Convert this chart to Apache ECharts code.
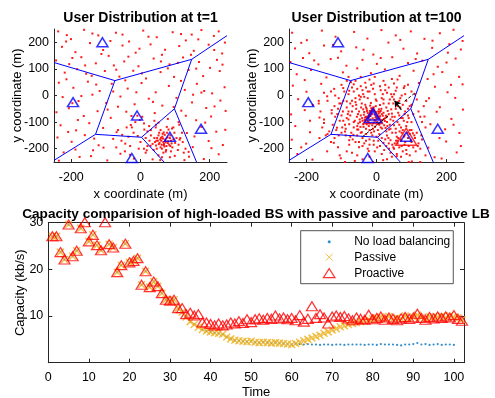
<!DOCTYPE html>
<html>
<head>
<meta charset="utf-8">
<script src="https://cdn.jsdelivr.net/npm/echarts@6/dist/echarts.min.js"></script>
<style>
  html, body { margin: 0; padding: 0; background: #ffffff; }
  #chart { width: 495px; height: 398px; }
</style>
</head>
<body>
<div id="chart"></div>
<script>
// ---- user positions (flat x,y lists, metres) ----
const usersT1 = [
  -238,241,-201,212,-163,247,-122,226,-71,236,-33,203,8,244,47,219,93,238,131,207,176,246,212,224,244,199,
  -227,183,-188,163,-146,197,-108,171,-52,188,-14,161,29,192,71,172,112,186,154,168,197,191,236,158,
  -244,132,-206,118,-171,144,-129,121,-92,149,-47,128,-6,110,38,139,84,117,123,143,169,126,221,134,
  -219,86,-183,99,-141,74,-103,92,-61,71,-21,93,16,64,58,88,97,70,139,96,181,73,229,92,
  -236,48,-194,29,-152,52,-118,17,-83,44,-37,26,3,47,44,12,82,36,128,21,163,44,207,8,243,31,
  -225,-6,-179,-21,-139,3,-99,-28,-58,-4,-17,-33,24,-12,63,-38,104,-9,149,-26,190,-47,231,-19,
  -243,-63,-207,-48,-164,-77,-124,-59,-86,-84,-41,-61,-2,-92,41,-66,79,-88,118,-57,161,-93,204,-79,246,-58,
  -231,-112,-186,-131,-148,-104,-108,-122,-69,-138,-28,-111,11,-128,52,-102,91,-124,134,-141,176,-118,219,-136,
  -240,-158,-199,-174,-161,-149,-121,-187,-79,-163,-44,-181,-8,-152,29,-189,73,-211,113,-166,151,-194,197,-171,238,-186,
  -222,-214,-176,-231,-137,-206,-96,-244,-58,-219,-19,-237,18,-206,57,-243,99,-227,139,-212,183,-239,226,-221,
  -213,227,-87,205,-3,176,62,153,148,229,201,104,-157,82,-77,113,108,123,-197,-29,-12,12,176,11,-65,-42,96,-43,-143,-228,
  -215,203,-139,233,-52,229,23,221,117,231,167,211,226,241,
  -197,141,-113,156,-35,146,59,128,146,153,213,171,
  -160,113,-70,97,4,83,79,102,161,101,237,116,
  -214,61,-128,41,-44,57,117,55,184,17,-171,-2,-79,15,36,-24,152,3,214,-41,
  -181,-92,-95,-53,-26,-77,131,-76,187,-102,-209,-137,-134,-162,-53,-148,67,-139,112,-110,156,-154,245,-129,
  -188,-203,-107,-196,-30,-223,46,-170,127,-243,205,-198,-236,-245,86,-190,
  60,-170,72,-165,55,-178,68,-182,80,-172,48,-160,63,-155,75,-190,85,-160,58,-195,42,-175,90,-180,70,-148,52,-150,
  66,-175,78,-158,61,-185,88,-170,45,-188,73,-176,57,-165,83,-185,65,-162,50,-170,95,-165,62,-200,77,-140,40,-160,
  100,-178,69,-192,54,-140,86,-150,35,-182,92,-195,74,-205,47,-200,104,-160,58,-130,81,-128,30,-150,110,-185,66,-215,
  38,-205,98,-140,26,-170,115,-160,52,-225,88,-210,20,-190,76,-118,44,-120,108,-205,30,-130,122,-175,62,-232,95,-120,
  15,-160,85,-232,120,-140,10,-200,71,-170,59,-159,67,-186,79,-179,53,-183,64,-144,
  -40,-120,-20,-140,10,-105,-55,-170,25,-115,-30,-190,0,-175,40,-95,-65,-130,15,-215,-15,-100,-45,-210,35,-240,
  -5,-200,20,-135,-35,-155,5,-80,-9,-76,-70,-195,45,-110,130,-200,140,-230,-25,-120,110,-100,125,-215
];

const usersT100 = [
  -241,236,-199,208,-156,244,-117,221,-64,239,-26,214,14,246,55,226,98,241,137,213,181,234,220,247,246,205,
  -233,177,-192,159,-150,188,-101,166,-58,181,-9,154,34,199,77,176,116,158,159,179,204,161,241,173,
  -246,126,-210,141,-166,117,-131,137,-86,112,-40,134,1,119,45,144,90,122,131,131,175,108,226,139,
  -228,80,-187,96,-143,68,-96,87,-55,102,-16,84,24,98,66,74,106,93,146,62,188,88,236,70,
  -239,37,-200,14,-158,44,-121,25,-73,50,78,28,121,47,167,33,203,12,246,42,
  -224,-14,-182,-36,-141,-3,-106,-30,142,-21,181,-44,225,-9,
  -244,-71,-205,-55,-163,-83,-128,-67,137,-79,172,-61,214,-88,247,-53,
  -232,-115,-190,-138,-150,-103,-113,-121,154,-108,196,-127,237,-141,
  -242,-166,-201,-181,-163,-160,-122,-178,-78,-185,148,-196,199,-173,241,-190,
  -226,-220,-183,-241,-141,-210,-102,-236,-62,-246,-22,-209,19,-243,58,-228,101,-248,140,-225,186,-237,229,-214,
  -215,198,-124,190,-37,172,68,209,160,206,208,193,-178,132,-110,142,12,141,112,137,200,124,-205,58,-80,70,44,62,
  163,80,213,40,-165,-20,-190,-95,-140,-145,-215,-195,180,-160,220,-110,166,-232,125,-250,-90,-250,-10,-250,
  -12,-70,-3,-82,-25,-66,5,-60,-18,-90,10,-78,-30,-80,-8,-55,16,-92,-20,-105,2,-100,-35,-62,20,-65,-15,-48,8,-110,
  -40,-95,25,-85,-5,-72,-28,-50,14,-50,-45,-75,30,-100,-22,-115,-2,-40,35,-70,-38,-108,12,-120,-50,-60,28,-45,
  -10,-125,-32,-35,40,-90,-48,-90,22,-112,-18,-38,0,-88,-26,-96,18,-76,-8,-102,6,-68,-14,-60,-36,-72,32,-58,
  -4,-118,26,-122,-44,-45,10,-36,-52,-105,38,-110,-20,-130,44,-68,-30,-125,-56,-80,4,-130,-42,-30,48,-95,-16,-28,
  20,-30,-58,-50,36,-128,-6,-92,-24,-84,14,-100,-34,-92,8,-86,-12,-112,24,-96,-28,-108,-2,-62,-38,-52,30,-80,
  -18,-68,12,-58,-46,-118,42,-52,-22,-78,2,-108,-8,-45,16,-124,-30,-44,
  -70,-60,-80,-90,-65,-120,-75,-30,-60,-10,-90,-110,-85,-45,-100,-75,-95,-20,-72,-140,-55,-150,-40,-160,-20,-165,
  0,-155,15,-160,30,-150,45,-140,55,-125,60,-100,65,-75,55,-50,60,-25,45,-5,30,10,15,-10,-5,5,-20,15,-35,-5,
  -50,0,-65,15,70,-120,78,-95,82,-60,75,-35,68,-10,50,5,25,20,-10,25,-40,20,-80,5,-110,-50,-105,-95,-115,-130,
  -88,-150,-60,-175,-35,-180,-8,-185,20,-178,40,-168,58,-155,72,-140,85,-115,92,-85,90,-50,85,-20,72,0,55,18,
  35,30,10,35,-15,40,-45,35,-70,30,-92,15,-108,-10,-120,-40,-118,-80,-125,-110,-100,-140,-78,-168,-50,-195,
  -25,-200,2,-195,28,-190,52,-180,70,-165,80,-150,95,-130,100,-100,105,-70,100,-35,-62,-95,-82,-70,-52,-128,
  -68,-40,-48,-15,-88,-125,-58,-35,-78,-108,-66,-148,-96,-60,-30,-145,-12,-150,8,-145,28,-135,50,-112,52,-80,
  48,-30,38,-15,62,-65,-38,5,-25,-10,-2,-15,18,5,-55,-128,-85,-22,75,-85,68,-45,-42,-138,34,-160,-8,-170,
  -75,-75,-65,-100,-70,-20,-55,-115,-85,-85,-45,-140,-30,-170,-15,-140,5,-170,25,-165,40,-125,55,-140,65,-110,
  70,-85,60,-40,50,-15,35,-30,20,-15,0,-20,-25,15,-45,-5,-60,-25,-80,-60,-95,-95,-90,-135,-75,-155,-50,-175,
  -20,-185,10,-190,35,-180,60,-170,75,-130,88,-100,80,-70,65,-20,42,5,12,20,-30,30,-55,25,-78,18,
  -102,-30,-112,-70,-98,-120,-68,-165,-40,-190,-5,-210,22,-205,48,-195,90,-75,95,-40,82,5,58,30,25,40,-8,45,
  -32,48,-65,42,-95,28,-118,0,-128,-55,-108,-150,
  -33,-83,-17,-77,-3,-95,9,-62,21,-88,-27,-58,-41,-85,3,-78,-11,-86,15,-70,-23,-98,27,-76,-37,-118,-7,-135,
  31,-115,-53,-70,45,-80,-47,-100,7,-52,-19,-58,
  70,-170,90,-160,80,-185,100,-175,95,-145,65,-195,110,-160,75,-210,105,-195,60,-180,115,-140,85,-205,120,-180,
  50,-200,95,-225,40,-215,130,-165,70,-230,100,-130,82,-175,62,-160,112,-210,45,-185,125,-200,88,-140,58,-220,
  78,-155,108,-150,36,-200,92,-190,72,-190,98,-168,86,-220,56,-170,118,-190,104,-142,66,-135,128,-150,44,-230,92,-250,
  -140,-20,-150,-90,-145,-150,-130,-175,-110,-195,-85,-210,-55,-225,-20,-230,15,-220,120,-60,130,-100,115,-15,
  100,15,80,35,50,45,20,55,-20,60,-60,55,-100,40,-130,15,-160,-60,-155,-120,-120,-160,-70,-215,-40,-240,
  135,-40,140,-120,125,-80,60,60,-5,70,-85,55,-135,-135,-165,-30,150,-10,-45,70,90,40,110,5,-150,10,30,-240,-105,-225
];

// ---- base stations and the cell borders between them ----
const stations = [[-110, 200], [-195, -25], [-10, -75], [175, -125], [85, -155], [-25, -235]];
const loadedStations = [[-10, -75], [85, -155]];
const cellEdges = [
  [[-250, 124], [-74, 56]], [[-74, 56], [148, 136]], [[148, 136], [250, 225]],
  [[-74, 56], [-130, -146]], [[148, 136], [98, -50]], [[98, -50], [3, -157]],
  [[-130, -146], [3, -157]], [[-130, -146], [-250, -244]], [[3, -157], [68, -250]],
  [[98, -50], [162, -250]]
];
const moveTracks = [[[-40, -155], [38, -72]], [[109, 9], [80, -22]]];
const moveArrow = [[[71, -54], [52, -20]]];

const mapTicksX = [-200, 0, 200];
const mapTicksY = [-200, -100, 0, 100, 200];

// ---- capacity over time (kb/s) ----
const time = [1,2,3,4,5,6,7,8,9,10,11,12,13,14,15,16,17,18,19,20,21,22,23,24,25,26,27,28,29,30,
  31,32,33,34,35,36,37,38,39,40,41,42,43,44,45,46,47,48,49,50,51,52,53,54,55,56,57,58,59,60,
  61,62,63,64,65,66,67,68,69,70,71,72,73,74,75,76,77,78,79,80,81,82,83,84,85,86,87,88,89,90,
  91,92,93,94,95,96,97,98,99,100,101,102];

const proactive = [27.1,27.1,23.7,22.1,29.6,22.8,24.0,28.8,30.1,26.0,
  27.4,25.2,24.1,30.1,25.4,24.7,19.4,20.9,25.5,21.5,
  21.8,22.4,16.7,19.6,16.2,17.4,16.4,14.9,13.5,13.3,
  13.5,11.7,11.7,10.4,10.7,10.1,10.4,8.6,8.6,8.3,
  8.0,8.4,8.0,8.2,8.6,8.4,8.9,8.5,9.3,8.7,
  9.3,9.5,9.2,9.6,9.4,10.1,9.5,9.7,9.3,9.6,
  9.1,10.2,8.8,9.4,12.1,9.6,10.4,9.7,8.4,9.9,
  10.1,9.8,10.0,9.5,9.1,9.7,9.4,9.2,10.3,9.3,
  9.6,9.9,9.2,9.7,9.4,9.1,9.5,9.8,9.4,9.7,
  10.5,9.6,9.2,9.8,9.5,9.9,9.6,9.9,9.7,10.2,
  9.4,9.0];

const passive = [27.1,27.1,23.7,22.1,29.6,22.8,24.0,28.8,30.1,26.0,
  27.4,25.2,24.1,30.1,25.4,24.7,19.4,20.9,25.5,21.5,
  21.8,22.4,16.7,19.6,16.2,17.4,16.4,14.9,13.5,13.3,
  13.5,11.7,10.8,9.8,8.8,8.2,7.6,7.1,6.8,6.6,
  6.4,6.3,6.1,5.5,5.1,4.8,4.7,4.6,4.5,4.6,
  4.4,4.3,4.4,4.3,4.2,4.3,4.2,4.1,4.0,3.9,
  4.1,4.4,4.7,5.0,5.3,5.6,5.9,6.3,6.6,7.0,
  7.3,7.7,7.9,8.2,8.4,8.6,8.8,9.0,9.2,9.4,
  9.6,9.8,9.5,9.9,9.3,9.6,9.4,10.0,9.5,9.8,
  10.2,9.7,9.4,9.9,9.7,9.8,10.0,9.7,10.1,9.8,
  9.6,9.2];

const noBalancing = [27.1,27.1,23.7,22.1,29.6,22.8,24.0,28.8,30.1,26.0,
  27.4,25.2,24.1,30.1,25.4,24.7,19.4,20.9,25.5,21.5,
  21.8,22.4,16.7,19.6,16.2,17.4,16.4,14.9,13.5,13.3,
  13.5,11.7,10.8,9.8,8.8,8.2,7.6,7.1,6.8,6.6,
  6.4,6.3,6.1,5.5,5.1,4.8,4.7,4.6,4.5,4.6,
  4.4,4.3,4.4,4.3,4.2,4.3,4.2,4.1,4.0,3.9,
  4.1,4.0,3.9,4.0,3.9,3.9,3.8,3.9,3.9,3.8,
  3.9,3.9,3.8,3.9,3.9,3.9,3.9,3.8,3.9,3.9,
  3.8,4.0,3.9,3.9,3.9,3.8,3.7,3.9,3.9,4.0,
  4.2,3.9,4.0,3.8,3.9,4.0,3.8,3.9,3.9,3.8];

const timeTicks = [0, 10, 20, 30, 40, 50, 60, 70, 80, 90, 100];
const capacityTicks = [10, 20, 30];

// ---- drawing ----
const FONT = '"Liberation Sans", Arial, Helvetica, sans-serif';
const AXIS = '#262626';
const BLUE = '#0000FF';
const RED = '#FF0000';
const CROSS = 'path://M0,0L10,10M10,0L0,10';

function toPairs(flat) {
  const out = [];
  for (let i = 0; i < flat.length; i += 2) out.push([flat[i], flat[i + 1]]);
  return out;
}
const series1 = (ys) => ys.map((v, i) => [time[i], v]);

const nameStyle = { fontSize: 13, color: '#000', fontFamily: FONT };
const labelStyle = { fontSize: 12.5, color: '#000', fontFamily: FONT };

function mapXAxis(gridIndex) {
  return {
    type: 'value', gridIndex, min: -250, max: 250,
    axisLine: { show: true, onZero: false, lineStyle: { color: AXIS, width: 1 } },
    axisTick: { show: true, inside: true, length: 3, customValues: mapTicksX, lineStyle: { color: AXIS } },
    axisLabel: Object.assign({ customValues: mapTicksX, margin: 9 }, labelStyle),
    splitLine: { show: false },
    name: 'x coordinate (m)', nameLocation: 'middle', nameGap: 26, nameMoveOverlap: false,
    nameTextStyle: nameStyle
  };
}
function mapYAxis(gridIndex) {
  return {
    type: 'value', gridIndex, min: -250, max: 250,
    axisLine: { show: true, onZero: false, lineStyle: { color: AXIS, width: 1 } },
    axisTick: { show: true, inside: true, length: 3, customValues: mapTicksY, lineStyle: { color: AXIS } },
    axisLabel: Object.assign({ customValues: mapTicksY, margin: 5 }, labelStyle),
    splitLine: { show: false },
    name: 'y coordinate (m)', nameLocation: 'middle', nameGap: 30, nameMoveOverlap: false,
    nameTextStyle: nameStyle
  };
}
function userSeries(flat, idx) {
  return {
    type: 'scatter', xAxisIndex: idx, yAxisIndex: idx, data: toPairs(flat),
    symbol: 'rect', symbolSize: 2, itemStyle: { color: RED, opacity: 0.9 }, clip: true, z: 2
  };
}
function cellSeries(idx) {
  return {
    type: 'lines', coordinateSystem: 'cartesian2d', xAxisIndex: idx, yAxisIndex: idx,
    data: cellEdges.map(e => ({ coords: e })),
    lineStyle: { color: BLUE, width: 1, opacity: 1 }, z: 3
  };
}
function stationSeries(idx) {
  return {
    type: 'scatter', xAxisIndex: idx, yAxisIndex: idx, data: stations,
    symbol: 'triangle', symbolSize: [11, 9],
    itemStyle: { color: 'none', borderColor: BLUE, borderWidth: 1.5 }, z: 4
  };
}

const chart = echarts.init(document.getElementById('chart'), null, { renderer: 'canvas' });

const titleStyle = { fontSize: 14, fontWeight: 'bold', color: '#000', fontFamily: FONT };

chart.setOption({
  animation: false,
  backgroundColor: '#ffffff',
  title: [
    { text: 'User Distribution at t=1', left: 140.5, top: 11.5, textAlign: 'center', padding: 0, textStyle: titleStyle },
    { text: 'User Distribution at t=100', left: 376.5, top: 11.5, textAlign: 'center', padding: 0, textStyle: titleStyle },
    { text: 'Capacity comparision of high-loaded BS with passive and paroactive LB', left: 256, top: 207,
      textAlign: 'center', padding: 0, textStyle: Object.assign({}, titleStyle, { fontSize: 13.6 }) }
  ],
  grid: [
    { left: 54, top: 29, width: 173, height: 133, outerBoundsMode: 'none' },
    { left: 289, top: 29, width: 175, height: 133, outerBoundsMode: 'none' },
    { left: 48.3, top: 222.7, width: 415.7, height: 140, outerBoundsMode: 'none' }
  ],
  legend: {
    orient: 'vertical', left: 300.7, top: 230.7,
    padding: [4, 3, 3, 6], itemWidth: 40, itemHeight: 10, itemGap: 1,
    borderColor: AXIS, borderWidth: 0.8, backgroundColor: '#ffffff',
    selectedMode: false,
    textStyle: { fontSize: 12, color: '#000', fontFamily: FONT, lineHeight: 14 },
    data: [
      { name: 'No load balancing', icon: 'path://M0,0M40,10M18.5,5A1.5,1.5 0 1 1 21.5,5A1.5,1.5 0 1 1 18.5,5Z', itemStyle: { borderWidth: 0 } },
      { name: 'Passive', icon: 'path://M0,0M40,10M16.5,1.5L23.5,8.5M23.5,1.5L16.5,8.5', itemStyle: { borderWidth: 1 } },
      { name: 'Proactive', icon: 'path://M0,0M40,10M14.2,9.5L25.8,9.5L20,0.5Z', itemStyle: { borderWidth: 1.2 } }
    ]
  },
  xAxis: [
    mapXAxis(0),
    mapXAxis(1),
    {
      type: 'value', gridIndex: 2, min: 0, max: 102.5,
      axisLine: { show: true, onZero: false, lineStyle: { color: AXIS, width: 1 } },
      axisTick: { show: true, inside: true, length: 4, customValues: timeTicks, lineStyle: { color: AXIS } },
      axisLabel: Object.assign({ customValues: timeTicks, margin: 8 }, labelStyle),
      splitLine: { show: false },
      name: 'Time', nameLocation: 'middle', nameGap: 23, nameMoveOverlap: false,
      nameTextStyle: nameStyle
    },
    {
      type: 'value', gridIndex: 2, min: 0, max: 102.5, position: 'top',
      axisLine: { show: true, onZero: false, lineStyle: { color: AXIS, width: 1 } },
      axisTick: { show: true, inside: true, length: 4, customValues: timeTicks, lineStyle: { color: AXIS } },
      axisLabel: { show: false }, splitLine: { show: false }
    }
  ],
  yAxis: [
    mapYAxis(0),
    mapYAxis(1),
    {
      type: 'value', gridIndex: 2, min: 0, max: 30,
      axisLine: { show: true, onZero: false, lineStyle: { color: AXIS, width: 1 } },
      axisTick: { show: true, inside: true, length: 4, customValues: capacityTicks, lineStyle: { color: AXIS } },
      axisLabel: Object.assign({ customValues: capacityTicks, margin: 5 }, labelStyle),
      splitLine: { show: false },
      name: 'Capacity (kb/s)', nameLocation: 'middle', nameGap: 21, nameMoveOverlap: false,
      nameTextStyle: nameStyle
    },
    {
      type: 'value', gridIndex: 2, min: 0, max: 30, position: 'right',
      axisLine: { show: true, onZero: false, lineStyle: { color: AXIS, width: 1 } },
      axisTick: { show: true, inside: true, length: 4, customValues: capacityTicks, lineStyle: { color: AXIS } },
      axisLabel: { show: false }, splitLine: { show: false }
    }
  ],
  series: [
    userSeries(usersT1, 0),
    cellSeries(0),
    stationSeries(0),
    userSeries(usersT100, 1),
    cellSeries(1),
    {
      type: 'scatter', xAxisIndex: 1, yAxisIndex: 1, data: loadedStations,
      symbol: 'triangle', symbolSize: (v, p) => (p.dataIndex === 0 ? [19, 16] : [21, 17]),
      itemStyle: { color: 'none', borderColor: RED, borderWidth: 1.5 }, z: 4
    },
    {
      type: 'scatter', xAxisIndex: 1, yAxisIndex: 1, data: loadedStations.slice(0, 1),
      symbol: 'triangle', symbolSize: [17, 14],
      itemStyle: { color: 'none', borderColor: BLUE, borderWidth: 1.5 }, z: 4
    },
    stationSeries(1),
    {
      type: 'lines', coordinateSystem: 'cartesian2d', xAxisIndex: 1, yAxisIndex: 1,
      data: moveTracks.map(e => ({ coords: e })),
      symbol: ['none', 'none'],
      lineStyle: { color: '#000', width: 1, type: [3, 2], opacity: 1 }, z: 5
    },
    {
      type: 'lines', coordinateSystem: 'cartesian2d', xAxisIndex: 1, yAxisIndex: 1,
      data: moveArrow.map(e => ({ coords: e })),
      symbol: ['none', 'arrow'], symbolSize: 6,
      lineStyle: { color: '#000', width: 1.2, opacity: 1 }, z: 5
    },
    {
      name: 'No load balancing', type: 'scatter', xAxisIndex: 2, yAxisIndex: 2,
      data: series1(noBalancing), symbol: 'circle', symbolSize: 2.2,
      itemStyle: { color: '#0072BD' }, z: 3
    },
    {
      name: 'Passive', type: 'scatter', xAxisIndex: 2, yAxisIndex: 2,
      data: series1(passive), symbol: CROSS, symbolSize: 7,
      itemStyle: { color: 'none', borderColor: '#EDB120', borderWidth: 1.5 }, z: 4
    },
    {
      name: 'Proactive', type: 'scatter', xAxisIndex: 2, yAxisIndex: 2,
      data: series1(proactive), symbol: 'triangle', symbolSize: [11, 9],
      itemStyle: { color: 'none', borderColor: RED, borderWidth: 1.2 }, z: 5, clip: false
    }
  ]
});
</script>
</body>
</html>
